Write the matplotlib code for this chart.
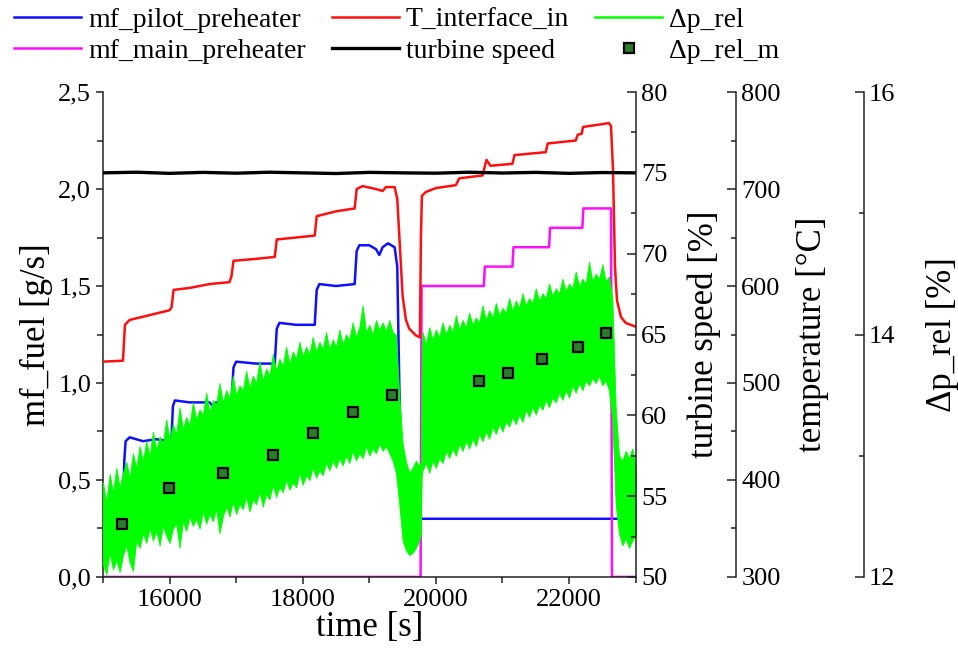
import matplotlib
matplotlib.use("Agg")
import matplotlib.pyplot as plt
from matplotlib.ticker import MultipleLocator, FuncFormatter

plt.rcParams['font.family'] = ['Liberation Serif', 'DejaVu Serif']

# ---- data ----
# mf_pilot_preheater [g/s]
pilot_t = [15000, 15300, 15320, 15340, 15400, 15600, 15800, 16000, 16030, 16050, 16080,
           16300, 16600, 16650, 16700, 16930, 16960, 17000, 17300, 17580, 17610, 17650,
           17900, 18180, 18210, 18250, 18500, 18780, 18810, 18850, 19000, 19100, 19150,
           19200, 19280, 19380, 19420, 19450, 19490, 19520, 23000]
pilot_mf = [0.30, 0.30, 0.60, 0.70, 0.72, 0.70, 0.71, 0.70, 0.72, 0.88, 0.91,
            0.90, 0.90, 0.88, 0.90, 0.90, 1.08, 1.11, 1.10, 1.10, 1.28, 1.31,
            1.30, 1.30, 1.48, 1.51, 1.50, 1.51, 1.68, 1.71, 1.71, 1.69, 1.66,
            1.70, 1.72, 1.70, 1.60, 1.00, 0.40, 0.30, 0.30]

# mf_main_preheater [g/s]
main_t = [15000, 19770, 19785, 20720, 20735, 21150, 21165, 21700, 21715, 22200, 22215, 22630, 22645, 23000]
main_mf = [0.0, 0.0, 1.50, 1.50, 1.60, 1.60, 1.70, 1.70, 1.80, 1.80, 1.90, 1.90, 0.0, 0.0]

# T_interface_in [°C]
temp_t = [15000, 15300, 15330, 15400, 15700, 16000, 16030, 16060, 16300, 16600, 16900, 16930,
          16960, 17300, 17580, 17610, 17900, 18180, 18210, 18500, 18780, 18810, 18900, 19100,
          19200, 19250, 19380, 19420, 19460, 19500, 19550, 19600, 19700, 19760, 19775, 19790,
          19850, 20000, 20300, 20350, 20700, 20760, 20820, 21150, 21180, 21650, 21680, 22100,
          22130, 22190, 22210, 22600, 22630, 22660, 22690, 22720, 22780, 22850, 23000]
temp_c = [522, 523, 560, 565, 570, 575, 578, 596, 598, 602, 604, 610,
          626, 628, 630, 648, 650, 652, 672, 677, 680, 700, 703, 700,
          698, 702, 702, 690, 640, 590, 565, 556, 549, 547, 650, 693,
          697, 701, 704, 711, 714, 730, 724, 726, 735, 738, 747, 750,
          756, 757, 764, 768, 765, 720, 620, 585, 568, 562, 558]

# turbine speed [%]
speed_t = [15000, 15500, 16000, 16500, 17000, 17500, 18000, 18500, 19000, 19500,
           20000, 20500, 21000, 21500, 22000, 22500, 23000]
speed_pct = [75.0, 75.04, 74.97, 75.03, 74.98, 75.04, 75.0, 74.96, 75.03, 75.0,
             74.98, 75.04, 74.99, 75.03, 74.97, 75.02, 75.0]

# delta p_rel [%]: upper / lower edge of the noisy signal, sampled every 50 s
dp_t = (list(range(15000, 19401, 50))
        + [19450, 19500, 19550, 19600, 19650, 19700, 19750, 19775, 19785]
        + list(range(19800, 22601, 50))
        + [22650, 22700, 22750, 22800, 22850, 22900, 22950, 23000])
dp_hi = [12.78, 12.62, 12.85, 12.70, 12.90, 12.74, 12.86, 12.95, 12.82, 13.02,
         12.90, 13.08, 12.96, 13.12, 13.00, 13.20, 13.05, 13.16, 13.10, 13.30,
         13.14, 13.26, 13.18, 13.40, 13.22, 13.32, 13.25, 13.44, 13.30, 13.38,
         13.34, 13.52, 13.36, 13.46, 13.42, 13.60, 13.44, 13.54, 13.48, 13.66,
         13.50, 13.58, 13.54, 13.70, 13.56, 13.66, 13.60, 13.78, 13.62, 13.72,
         13.66, 13.84, 13.70, 13.80, 13.74, 13.90, 13.76, 13.86, 13.80, 13.94,
         13.82, 13.90, 13.84, 13.98, 13.86, 13.94, 13.88, 14.02, 13.88, 13.96,
         13.90, 14.04, 13.92, 14.00, 13.96, 14.10, 13.98, 14.06, 14.24, 14.02,
         14.08, 14.00, 14.12, 14.04, 14.10, 14.03, 14.12, 14.02, 14.00,
         13.50, 13.10, 12.95, 12.86, 12.90, 12.96, 12.92, 12.95, 13.90,
         14.02, 13.92, 14.06, 13.96, 14.04, 13.98, 14.10, 14.00, 14.08, 14.02,
         14.16, 14.04, 14.12, 14.06, 14.18, 14.08, 14.14, 14.10, 14.24, 14.12,
         14.20, 14.14, 14.26, 14.16, 14.22, 14.18, 14.30, 14.20, 14.28, 14.22,
         14.34, 14.24, 14.30, 14.26, 14.38, 14.28, 14.34, 14.30, 14.42, 14.32,
         14.38, 14.34, 14.46, 14.36, 14.42, 14.38, 14.52, 14.40, 14.46, 14.42,
         14.60, 14.44, 14.50, 14.46, 14.58, 14.44, 14.48,
         14.30, 13.40, 13.00, 12.96, 13.04, 12.98, 13.06, 12.92]
dp_lo = [12.10, 12.02, 12.20, 12.06, 12.14, 12.04, 12.18, 12.26, 12.12, 12.05,
         12.30, 12.24, 12.36, 12.28, 12.40, 12.30, 12.38, 12.26, 12.42, 12.34,
         12.28, 12.40, 12.44, 12.24, 12.46, 12.38, 12.50, 12.42, 12.48, 12.40,
         12.54, 12.44, 12.52, 12.46, 12.56, 12.36, 12.50, 12.58, 12.50, 12.62,
         12.52, 12.60, 12.56, 12.66, 12.54, 12.64, 12.60, 12.70, 12.58, 12.68,
         12.64, 12.76, 12.66, 12.74, 12.70, 12.80, 12.72, 12.78, 12.74, 12.86,
         12.76, 12.84, 12.80, 12.90, 12.82, 12.88, 12.84, 12.94, 12.88, 12.96,
         12.90, 12.98, 12.92, 13.00, 12.94, 13.04, 12.96, 13.02, 12.98, 13.08,
         13.00, 13.06, 13.02, 13.10, 13.04, 13.08, 13.02, 12.96, 12.86,
         12.60, 12.30, 12.22, 12.18, 12.20, 12.24, 12.30, 12.36, 12.82,
         12.88, 12.94, 12.86, 12.96, 12.90, 12.98, 12.94, 13.04, 12.98, 13.06,
         13.00, 13.10, 13.04, 13.12, 13.06, 13.14, 13.08, 13.18, 13.12, 13.20,
         13.14, 13.24, 13.18, 13.26, 13.20, 13.28, 13.24, 13.32, 13.26, 13.34,
         13.28, 13.38, 13.32, 13.40, 13.34, 13.42, 13.38, 13.46, 13.40, 13.48,
         13.44, 13.52, 13.46, 13.54, 13.48, 13.58, 13.52, 13.60, 13.54, 13.62,
         13.58, 13.64, 13.60, 13.66, 13.58, 13.62, 13.54,
         13.30, 12.60, 12.36, 12.26, 12.32, 12.24, 12.30, 12.34]

# delta p_rel_m [%] (mean values)
dpm_t = [15280, 15990, 16800, 17550, 18150, 18750, 19340, 20650, 21090, 21600, 22140, 22550]
dpm_val = [12.44, 12.73, 12.86, 13.01, 13.19, 13.36, 13.50, 13.62, 13.68, 13.80, 13.90, 14.01]

labels = ['mf_pilot_preheater', 'mf_main_preheater', 'T_interface_in',
          'turbine speed', 'Δp_rel', 'Δp_rel_m']

# ---- figure ----
fig = plt.figure(figsize=(9.58, 6.67), dpi=100)
ax = fig.add_axes([0.1075, 0.135, 0.556, 0.727])
ax_dp = ax.twinx()
ax_T = ax.twinx()
ax_ts = ax.twinx()

l_pilot, = ax.plot(pilot_t, pilot_mf, color='#1010ff', lw=1.8)
l_main, = ax.plot(main_t, main_mf, color='#ff10ff', lw=1.8)

ax_dp.fill_between(dp_t, dp_lo, dp_hi, color='#00ff00', lw=0.6)
l_dp, = ax_dp.plot([], [], color='#00ff00', lw=1.8)
l_dpm, = ax_dp.plot(dpm_t, dpm_val, ls='none', marker='s', ms=6.5,
                    mfc='#2a7d2a', mec='black', mew=1.6)

l_T, = ax_T.plot(temp_t, temp_c, color='#ff1010', lw=1.8)
l_ts, = ax_ts.plot(speed_t, speed_pct, color='black', lw=2.4)

ax.set_xlim(15000, 23000)
ax.set_ylim(0, 2.5)
ax_ts.set_ylim(50, 80)
ax_T.set_ylim(300, 800)
ax_dp.set_ylim(12, 16)

ax.xaxis.set_major_locator(MultipleLocator(2000))
ax.xaxis.set_minor_locator(MultipleLocator(1000))
ax.yaxis.set_major_locator(MultipleLocator(0.5))
ax.yaxis.set_minor_locator(MultipleLocator(0.25))
ax.yaxis.set_major_formatter(FuncFormatter(lambda v, p: f"{v:.1f}".replace('.', ',')))
ax_ts.yaxis.set_major_locator(MultipleLocator(5))
ax_ts.yaxis.set_minor_locator(MultipleLocator(2.5))
ax_T.yaxis.set_major_locator(MultipleLocator(100))
ax_T.yaxis.set_minor_locator(MultipleLocator(50))
ax_dp.yaxis.set_major_locator(MultipleLocator(2))
ax_dp.yaxis.set_minor_locator(MultipleLocator(1))

spine_col = '#222222'
for s in ['top', 'right']:
    ax.spines[s].set_visible(False)
for s in ['left', 'bottom']:
    ax.spines[s].set_linewidth(1.1)
    ax.spines[s].set_color(spine_col)
for a in [ax_ts, ax_T, ax_dp]:
    for s in ['top', 'left', 'bottom']:
        a.spines[s].set_visible(False)
    a.spines['right'].set_linewidth(1.1)
    a.spines['right'].set_color(spine_col)
    a.tick_params(axis='y', which='major', direction='in', length=6.5, width=1.1,
                  labelsize=19, pad=4, color=spine_col)
    a.tick_params(axis='y', which='minor', direction='in', length=3.5, width=1.1,
                  color=spine_col)
ax_T.spines['right'].set_position(('axes', 1.188))
ax_dp.spines['right'].set_position(('axes', 1.428))

ax.tick_params(axis='both', which='major', direction='out', length=5, width=1.1,
               labelsize=19, color=spine_col)
ax.tick_params(axis='both', which='minor', direction='out', length=4, width=1.1,
               color=spine_col)

ax.set_xlabel('time [s]', fontsize=25, labelpad=0)
ax.set_ylabel('mf_fuel [g/s]', fontsize=25, labelpad=4)
ax_ts.set_ylabel('turbine speed [%]', fontsize=25, labelpad=14)
ax_T.set_ylabel('temperature [°C]', fontsize=25, labelpad=11)
ax_dp.set_ylabel('Δp_rel [%]', fontsize=25, labelpad=22)

fig.legend([l_pilot, l_main, l_T, l_ts, l_dp, l_dpm], labels,
           loc='upper left', bbox_to_anchor=(0.012, 0.993), ncol=3, frameon=False,
           fontsize=20, handlelength=2.4, handletextpad=0.25, columnspacing=0.95,
           labelspacing=0.2, borderaxespad=0.0, borderpad=0.1)

fig.savefig('out.png', dpi=100)
